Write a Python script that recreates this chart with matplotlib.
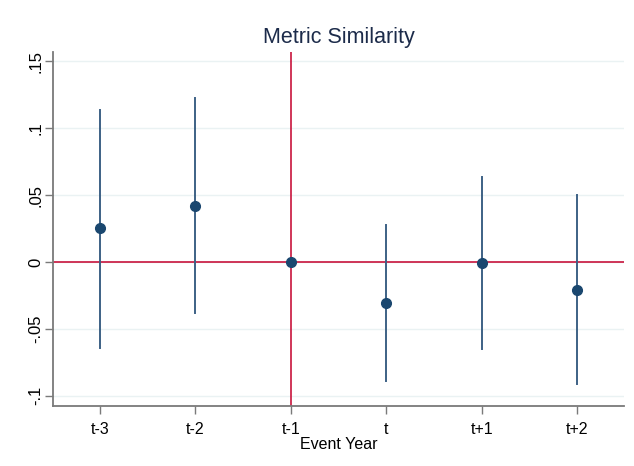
import matplotlib.pyplot as plt

# event-study coefficients with confidence intervals
labels = ['t-3', 't-2', 't-1', 't', 't+1', 't+2']
coef = [0.0254, 0.0419, 0.0, -0.0307, -0.001, -0.021]
ci_low = [-0.0644, -0.0382, 0.0, -0.089, -0.0651, -0.0913]
ci_high = [0.1138, 0.1228, 0.0, 0.0277, 0.0636, 0.050]
yticks = [-0.1, -0.05, 0, 0.05, 0.1, 0.15]
ytick_labels = ['-.1', '-.05', '0', '.05', '.1', '.15']

plt.rcParams['font.family'] = ['Liberation Sans', 'DejaVu Sans']

navy = '#1a476f'
red = '#c8143c'

fig = plt.figure(figsize=(6.34, 4.66), dpi=100)
ax = fig.add_axes([53 / 634, 1 - 405.7 / 466, (624 - 53) / 634, (405.7 - 52) / 466])

x = list(range(len(labels)))

# gridlines
for yt in yticks:
    ax.axhline(yt, color='#eaf2f3', lw=1, zorder=0)

# reference lines
ax.axhline(0, color=red, lw=1.2, zorder=2)
ax.axvline(2, color=red, lw=1.2, zorder=2)

# confidence intervals
for xi, lo, hi in zip(x, ci_low, ci_high):
    if hi != lo:
        ax.plot([xi, xi], [lo, hi], color='#3d6185', lw=1.4, zorder=3)

ax.plot(x, coef, 'o', color=navy, markersize=7, zorder=4)

ax.set_xlim(-0.49, 5.49)
ax.set_ylim(-0.1075, 0.157)
ax.set_xticks(x)
ax.set_xticklabels(labels, fontsize=11.5)
ax.set_yticks(yticks)
ax.set_yticklabels(ytick_labels, fontsize=12, rotation=90, va='center')
ax.set_xlabel('Event Year', fontsize=11.5, labelpad=0)

for s in ['top', 'right']:
    ax.spines[s].set_visible(False)
for s in ['left', 'bottom']:
    ax.spines[s].set_color('#7a7a7a')
    ax.spines[s].set_linewidth(1.3)
ax.tick_params(colors='#7a7a7a', labelcolor='black', length=5.5, width=1)
ax.tick_params(axis='x', pad=6)
ax.tick_params(axis='y', pad=1.5)

fig.text(339 / 634, 1 - 38 / 466, 'Metric Similarity', ha='center', va='center',
         fontsize=15.5, color='#1c2b4a')

fig.savefig('out.png', dpi=100)
